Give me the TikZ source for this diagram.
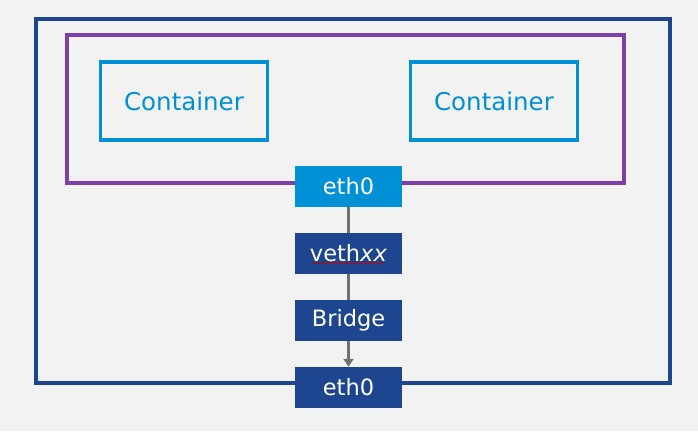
\documentclass[tikz,border=0pt]{standalone}
\usepackage{fontspec}
\setmainfont{DejaVu Sans}
\usetikzlibrary{arrows.meta,decorations.pathmorphing}
\definecolor{bgray}{RGB}{242,242,242}
\definecolor{hostblue}{RGB}{30,69,144}
\definecolor{podpurple}{RGB}{127,63,170}
\definecolor{ctrblue}{RGB}{0,144,214}
\definecolor{linkgray}{RGB}{112,112,112}
\tikzset{
  frame/.style={line width=3.3pt},
  ctrbox/.style={draw=ctrblue, line width=3.3pt, minimum width=167pt, minimum height=78pt,
    text=ctrblue, font=\fontsize{24.5}{28}\selectfont, inner sep=0pt},
  iface/.style={minimum width=107pt, minimum height=41pt, inner sep=0pt,
    text=white, font=\fontsize{22.5}{26}\selectfont},
  link/.style={draw=linkgray, line width=2.6pt}
}
\begin{document}
\begin{tikzpicture}[x=1pt,y=-1pt]
  % canvas
  \fill[bgray] (0,0) rectangle (698,431);
  \useasboundingbox (0,0) rectangle (698,431);
  % host and pod frames
  \draw[frame, draw=hostblue] (36,19) rectangle (670,383);
  \draw[frame, draw=podpurple] (67,35) rectangle (624,183);
  % containers
  \node[ctrbox] (c1) at (184,101) {Container};
  \node[ctrbox] (c2) at (494,101) {Container};
  % interfaces
  \node[iface, fill=ctrblue] (eth0a) at (348.5,186.5) {eth0};
  \node[iface, fill=hostblue] (veth) at (348.5,253.5) {veth\textit{xx}};
  \node[iface, fill=hostblue] (bridge) at (348.5,320.5) {Bridge};
  \node[iface, fill=hostblue] (eth0b) at (348.5,387.5) {eth0};
  % red wavy underline under the veth label
  \draw[red!80!black, line width=0.6pt, decorate,
        decoration={snake, amplitude=0.7pt, segment length=3pt}]
    ([xshift=-36pt,yshift=-9.5pt]veth.center) -- ([xshift=36pt,yshift=-9.5pt]veth.center);
  % links
  \draw[link] (eth0a) -- (veth);
  \draw[link] (veth) -- (bridge);
  \draw[link, -{Triangle[length=8pt,width=10pt]}] (bridge) -- (eth0b);
\end{tikzpicture}
\end{document}
